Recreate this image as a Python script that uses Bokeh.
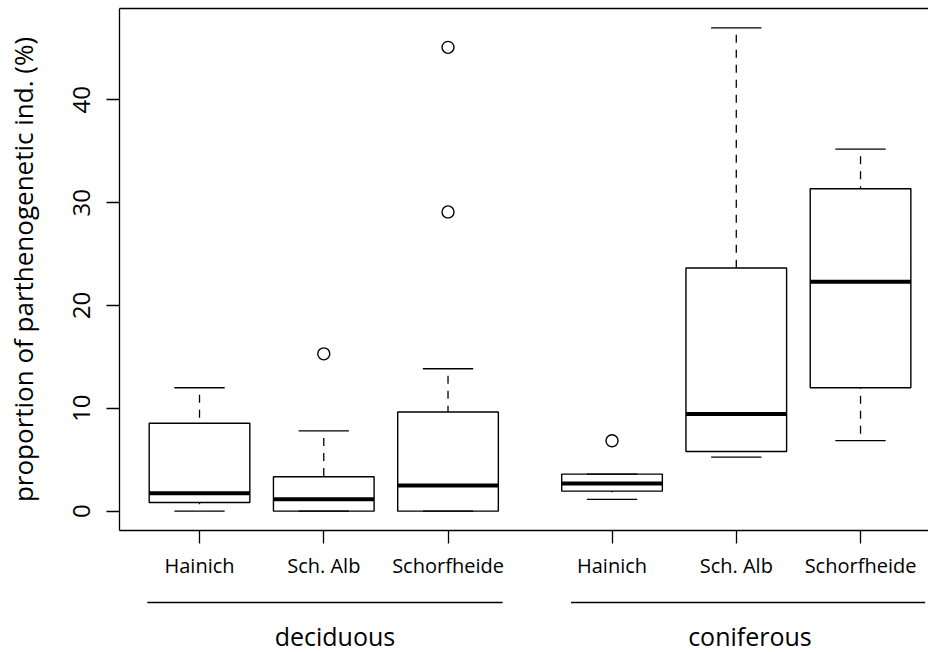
from bokeh.plotting import figure
from bokeh.layouts import column
from bokeh.models import LinearAxis, FixedTicker, Range1d, ColumnDataSource
from bokeh.core.properties import value
from bokeh.embed import file_html
from bokeh.resources import INLINE

# ---------------- data ----------------
sites = ["Hainich", "Sch. Alb", "Schorfheide", "Hainich", "Sch. Alb", "Schorfheide"]
forest = ["deciduous", "deciduous", "deciduous", "coniferous", "coniferous", "coniferous"]
whisker_low = [0.0, 0.0, 0.0, 1.15, 5.25, 6.85]
q1 = [0.85, 0.0, 0.0, 1.95, 5.8, 12.0]
median = [1.75, 1.15, 2.5, 2.7, 9.45, 22.3]
q3 = [8.55, 3.35, 9.65, 3.6, 23.65, 31.35]
whisker_high = [12.0, 7.8, 13.85, 3.6, 47.0, 35.2]
outlier_box = [1, 2, 2, 3]
outlier_value = [15.3, 29.1, 45.1, 6.85]
y_ticks = [0, 10, 20, 30, 40]
groups = ["deciduous", "coniferous"]

# ---------------- layout ----------------
positions = [1, 2, 3, 4.32, 5.32, 6.32]
group_line_span = [(0.58, 3.44), (3.99, 6.84)]
group_label_x = [2.09, 5.43]
box_w = 0.81
staple_w = box_w / 2

W, H = 928, 652
LEFT, TOP = 119, 8
FRAME_H = 522
STRIP_H = 62                       # lower strip holding the group lines / labels
MAIN_H = H - STRIP_H
X0, X1 = 0.356, 6.867
Y0, Y1 = -1.88, 48.88
FONT = "Open Sans"

xr = Range1d(X0, X1)
p = figure(width=W, height=MAIN_H, x_range=xr, y_range=Range1d(Y0, Y1),
           output_backend="svg", toolbar_location=None,
           min_border_left=LEFT, min_border_right=0, min_border_top=TOP,
           min_border_bottom=MAIN_H - TOP - FRAME_H)
p.outline_line_color = None
p.grid.visible = False
p.background_fill_color = "white"
p.border_fill_color = "white"

src = ColumnDataSource(dict(
    x=positions, left=[x - box_w / 2 for x in positions], right=[x + box_w / 2 for x in positions],
    sl=[x - staple_w / 2 for x in positions], sr=[x + staple_w / 2 for x in positions],
    lo=whisker_low, q1=q1, med=median, q3=q3, hi=whisker_high,
))

# whiskers (dashed)
p.segment(x0="x", y0="hi", x1="x", y1="q3", source=src, line_color="black",
          line_width=1.3, line_dash="8 7", line_dash_offset=8)
p.segment(x0="x", y0="lo", x1="x", y1="q1", source=src, line_color="black",
          line_width=1.3, line_dash="8 7", line_dash_offset=8)
# staples
p.segment(x0="sl", y0="hi", x1="sr", y1="hi", source=src, line_color="black", line_width=1.3)
p.segment(x0="sl", y0="lo", x1="sr", y1="lo", source=src, line_color="black", line_width=1.3)
# boxes
p.quad(left="left", right="right", bottom="q1", top="q3", source=src,
       fill_color=None, line_color="black", line_width=1.4)
# medians
p.segment(x0="left", y0="med", x1="right", y1="med", source=src, line_color="black", line_width=4)
# outliers
p.scatter(x=[positions[i] for i in outlier_box], y=outlier_value, marker="circle", size=12,
          fill_color=None, line_color="black", line_width=1.4)

# axes
xa = p.xaxis[0]
xa.ticker = FixedTicker(ticks=positions)
xa.major_label_overrides = {pos: name for pos, name in zip(positions, sites)}
xa.major_tick_out = 13
xa.major_tick_in = 0
xa.minor_tick_out = 0
xa.minor_tick_in = 0
xa.major_label_standoff = 8
xa.major_label_text_font = FONT
xa.major_label_text_font_size = "20px"
xa.major_label_text_color = "black"
xa.axis_line_color = "black"
xa.axis_line_width = 1.3
xa.major_tick_line_width = 1.3

ya = p.yaxis[0]
ya.ticker = FixedTicker(ticks=y_ticks)
ya.major_label_orientation = "vertical"
ya.major_tick_out = 13
ya.major_tick_in = 0
ya.minor_tick_out = 0
ya.minor_tick_in = 0
ya.major_label_standoff = 16
ya.major_label_text_font = FONT
ya.major_label_text_font_size = "24px"
ya.major_label_text_color = "black"
ya.axis_line_color = "black"
ya.axis_line_width = 1.3
ya.major_tick_line_width = 1.3
ya.axis_label = "proportion of parthenogenetic ind. (%)"
ya.axis_label_text_font = FONT
ya.axis_label_text_font_size = "26px"
ya.axis_label_text_font_style = "normal"
ya.axis_label_text_color = "black"
ya.axis_label_standoff = 30

top_axis = LinearAxis(ticker=FixedTicker(ticks=[]), major_tick_out=0, major_tick_in=0,
                      minor_tick_out=0, minor_tick_in=0, major_label_text_font_size="0px",
                      major_label_standoff=0, axis_line_color="black", axis_line_width=1.3)
p.add_layout(top_axis, "above")

# ---------------- lower strip: group lines and labels ----------------
# strip y-coordinate = pixels measured up from the bottom of the page
strip = figure(width=W, height=STRIP_H, x_range=xr, y_range=Range1d(0, STRIP_H),
               output_backend="svg", toolbar_location=None,
               x_axis_location=None, y_axis_location=None,
               min_border_left=LEFT, min_border_right=0, min_border_top=0, min_border_bottom=0)
strip.outline_line_color = None
strip.grid.visible = False
strip.background_fill_color = "white"
strip.border_fill_color = "white"

line_y = H - 602
label_y = H - 635
gsrc = ColumnDataSource(dict(
    x0=[a for a, b in group_line_span], x1=[b for a, b in group_line_span],
    y=[line_y] * len(groups), lx=group_label_x, ly=[label_y] * len(groups), name=groups,
))
strip.segment(x0="x0", y0="y", x1="x1", y1="y", source=gsrc, line_color="black", line_width=1.3)
strip.text(x="lx", y="ly", text="name", source=gsrc, text_align="center",
           text_baseline="alphabetic", text_font=value(FONT), text_font_size="25px",
           text_color="black")

layout = column(p, strip, spacing=0)
open("out.html", "w").write(file_html(layout, INLINE))
